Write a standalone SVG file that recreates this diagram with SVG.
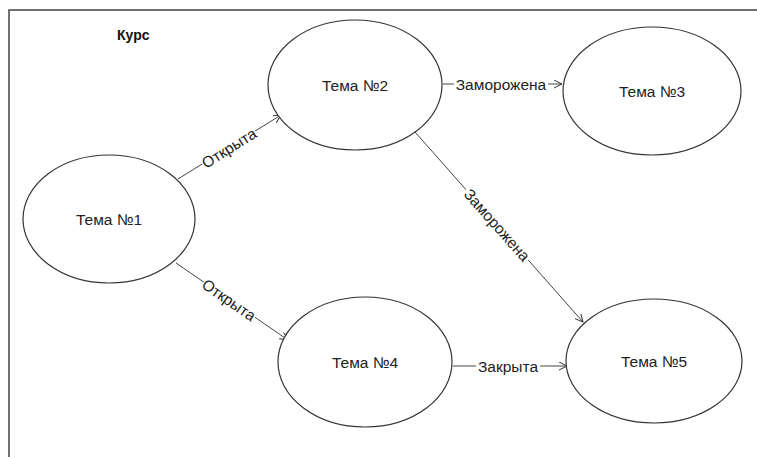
<svg xmlns="http://www.w3.org/2000/svg" width="757" height="457" viewBox="0 0 757 457">
<defs>
<marker id="arr" markerWidth="10" markerHeight="10" refX="8" refY="4" orient="auto" markerUnits="userSpaceOnUse">
<path d="M0,0 L8,4 L0,8" fill="none" stroke="#333" stroke-width="1"/>
</marker>
<style>
.node ellipse{fill:#fff;stroke:#333;stroke-width:1.2}
.node text{font-family:"Liberation Sans",Arial,sans-serif;font-size:15.5px;fill:#222;text-anchor:middle;dominant-baseline:central}
.edge line{stroke:#444;stroke-width:1;marker-end:url(#arr)}
.lbl rect{fill:#fff}
.lbl text{font-family:"Liberation Sans",Arial,sans-serif;font-size:15.5px;fill:#222;text-anchor:middle;dominant-baseline:central}
.title{font-family:"Liberation Sans",Arial,sans-serif;font-size:14px;font-weight:bold;fill:#111}
</style>
</defs>
<rect width="757" height="457" fill="#fff"/>
<path d="M9,457 L9,10 L757,10" fill="none" stroke="#444" stroke-width="1.5"/>
<text class="title" x="117" y="40">Курс</text>
<g id="connectors">
<g class="edge"><line x1="178" y1="179" x2="281" y2="115"/>
<g class="lbl" transform="translate(229,148) rotate(-32)"><rect x="-31" y="-8" width="62" height="16"/><text x="0" y="0">Открыта</text></g></g>
<g class="edge"><line x1="176" y1="263" x2="288" y2="340"/>
<g class="lbl" transform="translate(229,300) rotate(34.7)"><rect x="-31" y="-8" width="62" height="16"/><text x="0" y="0">Открыта</text></g></g>
<g class="edge"><line x1="443" y1="84" x2="562" y2="84"/>
<g class="lbl" transform="translate(501,84)"><rect x="-47" y="-8" width="94" height="16"/><text x="0" y="0">Заморожена</text></g></g>
<g class="edge"><line x1="415" y1="132" x2="583" y2="322"/>
<g class="lbl" transform="translate(497,225) rotate(48.5)"><rect x="-47" y="-8" width="94" height="16"/><text x="0" y="0">Заморожена</text></g></g>
<g class="edge"><line x1="453" y1="366" x2="567" y2="366"/>
<g class="lbl" transform="translate(508,366)"><rect x="-32" y="-8" width="64" height="16"/><text x="0" y="0">Закрыта</text></g></g>
</g>
<g id="n1" class="node"><ellipse cx="109" cy="219" rx="86" ry="64"/><text x="109" y="219">Тема №1</text></g>
<g id="n2" class="node"><ellipse cx="355" cy="85" rx="87" ry="65"/><text x="355" y="85">Тема №2</text></g>
<g id="n3" class="node"><ellipse cx="652" cy="91" rx="89" ry="64"/><text x="652" y="91">Тема №3</text></g>
<g id="n4" class="node"><ellipse cx="365" cy="362" rx="87" ry="65"/><text x="365" y="362">Тема №4</text></g>
<g id="n5" class="node"><ellipse cx="654" cy="361" rx="88" ry="62"/><text x="654" y="361">Тема №5</text></g>
</svg>
